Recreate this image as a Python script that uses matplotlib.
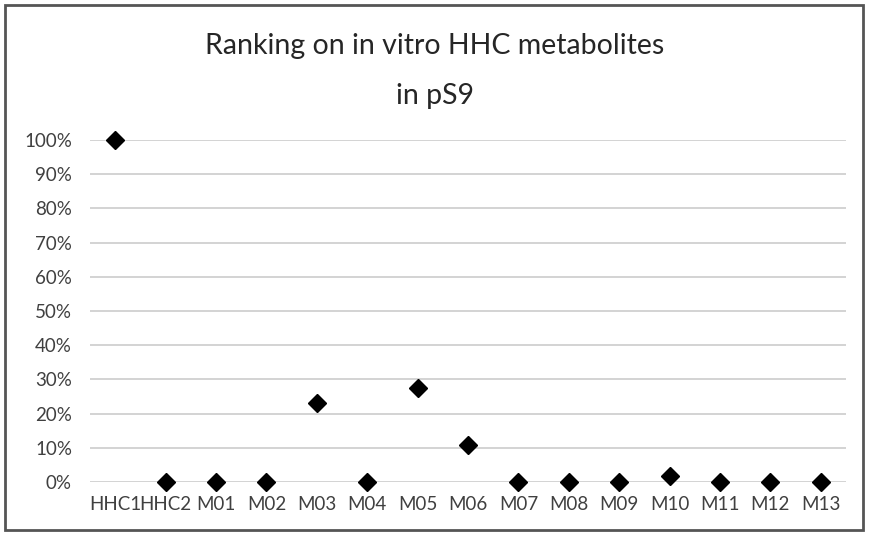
import matplotlib.pyplot as plt
from matplotlib.patches import Rectangle
from matplotlib.ticker import PercentFormatter

plt.rcParams['font.family'] = ['Lato', 'DejaVu Sans']

categorias = ['HHC1', 'HHC2', 'M01', 'M02', 'M03', 'M04', 'M05', 'M06',
              'M07', 'M08', 'M09', 'M10', 'M11', 'M12', 'M13']
valores = [100, 0, 0, 0, 23, 0, 27.5, 10.8, 0, 0, 0, 1.8, 0, 0, 0]

fig = plt.figure(figsize=(8.69, 5.36), dpi=100)
ax = fig.add_axes([90 / 869, 1 - 482 / 536, 756 / 869, 342 / 536])

x = list(range(len(categorias)))
ax.plot(x, valores, linestyle='none', marker='D', markersize=9.5,
        color='black', zorder=3, clip_on=False)

ax.set_xlim(-0.5, len(categorias) - 0.5)
ax.set_ylim(0, 100)
ax.set_yticks(range(0, 101, 10))
ax.yaxis.set_major_formatter(PercentFormatter(decimals=0))
ax.set_xticks(x)
ax.set_xticklabels(categorias)
ax.grid(axis='y', color='#d0d0d0', linewidth=1.3, zorder=0)
ax.set_axisbelow(True)
for s in ax.spines.values():
  s.set_visible(False)
ax.tick_params(length=0, labelsize=13.5, colors='#404040', pad=10)
ax.tick_params(axis='y', pad=13)

fig.text(0.5, 1 - 46 / 536, 'Ranking on in vitro HHC metabolites', ha='center',
         va='center', fontsize=20.5, color='#262626')
fig.text(0.5, 1 - 96 / 536, 'in pS9', ha='center', va='center',
         fontsize=20.5, color='#262626')

# marco exterior del gráfico
fig.patches.append(Rectangle((5 / 869, 6 / 536), 858 / 869, 525 / 536,
                             transform=fig.transFigure, fill=False,
                             edgecolor='#555555', linewidth=2))

fig.savefig('out.png', dpi=100)
